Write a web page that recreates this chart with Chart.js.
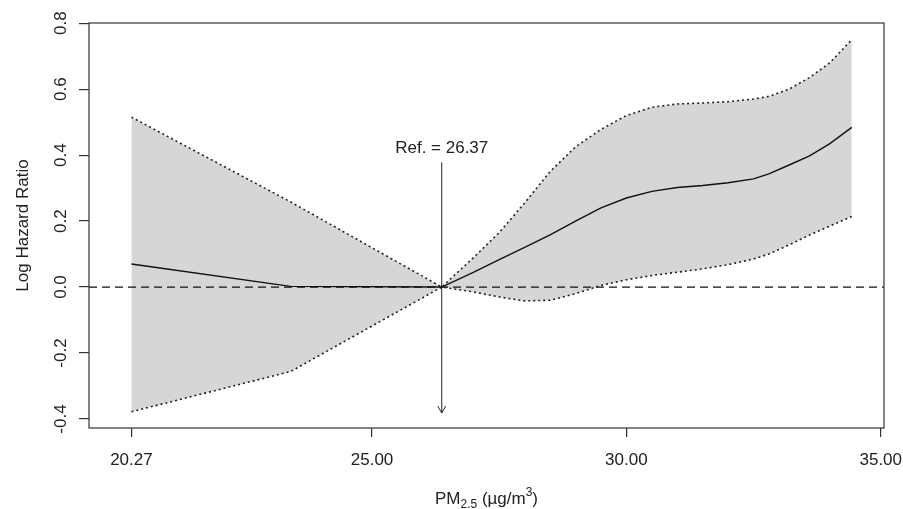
<!DOCTYPE html>
<html lang="en">
<head>
  <meta charset="UTF-8">
  <title>Log Hazard Ratio vs PM2.5</title>
  <script src="https://cdn.jsdelivr.net/npm/chart.js"></script>
  <style>
    html, body { margin: 0; padding: 0; background: #fff; }
    .chart-container { position: relative; width: 903px; height: 509px; }
  </style>
</head>
<body>
  <div class="chart-container">
    <canvas id="hrChart"></canvas>
  </div>

  <script>
    // PM2.5 values where the spline was evaluated
    const pmValues = [20.27, 23.4, 26.37, 27.0, 27.5, 28.0, 28.5, 29.0, 29.5, 30.0, 30.5, 31.0, 31.5, 32.0, 32.5, 32.8, 33.2, 33.6, 34.0, 34.43];
    const logHR   = [0.070, 0.002, 0.0, 0.045, 0.083, 0.12, 0.158, 0.20, 0.24, 0.27, 0.29, 0.302, 0.308, 0.316, 0.328, 0.343, 0.37, 0.398, 0.435, 0.484];
    const upperCI = [0.515, 0.258, 0.0, 0.09, 0.165, 0.255, 0.35, 0.425, 0.478, 0.52, 0.545, 0.555, 0.558, 0.562, 0.57, 0.578, 0.60, 0.635, 0.68, 0.75];
    const lowerCI = [-0.378, -0.256, 0.0, -0.015, -0.03, -0.042, -0.04, -0.02, 0.005, 0.022, 0.035, 0.045, 0.055, 0.068, 0.085, 0.10, 0.128, 0.158, 0.185, 0.214];

    const xTicks = [20.27, 25, 30, 35];
    const yTicks = [-0.4, -0.2, 0.0, 0.2, 0.4, 0.6, 0.8];

    const refValue = 26.37;
    const refArrow = [0.378, -0.382]; // top, bottom of the arrow
    const refLabel = 'Ref. = 26.37';

    const FONT = '"Liberation Sans", Arial, sans-serif';
    const TEXT = '#222';

    function toPoints(ys) {
      return pmValues.map((x, i) => ({ x: x, y: ys[i] }));
    }

    const rPlotLook = {
      id: 'rPlotLook',
      afterDatasetsDraw(chart) {
        const ctx = chart.ctx;
        const area = chart.chartArea;
        const xs = chart.scales.x;
        const ys = chart.scales.y;

        ctx.save();
        // dashed zero line
        ctx.strokeStyle = '#111';
        ctx.lineWidth = 1.2;
        ctx.setLineDash([8, 5]);
        const y0 = ys.getPixelForValue(0);
        ctx.beginPath();
        ctx.moveTo(area.left, y0);
        ctx.lineTo(area.right, y0);
        ctx.stroke();
        ctx.setLineDash([]);

        // reference arrow
        const rx = xs.getPixelForValue(refValue);
        const top = ys.getPixelForValue(refArrow[0]);
        const bot = ys.getPixelForValue(refArrow[1]);
        ctx.strokeStyle = '#222';
        ctx.lineWidth = 1;
        ctx.beginPath();
        ctx.moveTo(rx, top);
        ctx.lineTo(rx, bot);
        ctx.moveTo(rx - 4, bot - 7);
        ctx.lineTo(rx, bot);
        ctx.lineTo(rx + 4, bot - 7);
        ctx.stroke();

        ctx.fillStyle = TEXT;
        ctx.font = '17px ' + FONT;
        ctx.textAlign = 'center';
        ctx.textBaseline = 'alphabetic';
        ctx.fillText(refLabel, rx, top - 9);
        ctx.restore();
      },
      afterDraw(chart) {
        const ctx = chart.ctx;
        const area = chart.chartArea;
        const xs = chart.scales.x;
        const ys = chart.scales.y;

        ctx.save();
        // box
        ctx.strokeStyle = '#333';
        ctx.lineWidth = 1.2;
        ctx.strokeRect(area.left, area.top, area.right - area.left, area.bottom - area.top);

        ctx.fillStyle = TEXT;
        ctx.font = '17px ' + FONT;
        ctx.textBaseline = 'alphabetic';
        ctx.textAlign = 'center';

        // x tick labels
        xTicks.forEach(v => {
          ctx.fillText(v.toFixed(2), xs.getPixelForValue(v), area.bottom + 37);
        });

        // y tick labels, rotated like R's default
        yTicks.forEach(v => {
          ctx.save();
          ctx.translate(area.left - 23, ys.getPixelForValue(v));
          ctx.rotate(-Math.PI / 2);
          ctx.fillText(v.toFixed(1), 0, 0);
          ctx.restore();
        });

        // y title
        ctx.save();
        ctx.translate(area.left - 61, (area.top + area.bottom) / 2);
        ctx.rotate(-Math.PI / 2);
        ctx.fillText('Log Hazard Ratio', 0, 0);
        ctx.restore();

        // x title with sub/superscript
        const parts = [
          { t: 'PM', size: 17, dy: 0 },
          { t: '2.5', size: 12, dy: 4 },
          { t: ' (\u00b5g/m', size: 17, dy: 0 },
          { t: '3', size: 12, dy: -8 },
          { t: ')', size: 17, dy: 0 }
        ];
        let total = 0;
        parts.forEach(p => {
          ctx.font = p.size + 'px ' + FONT;
          p.w = ctx.measureText(p.t).width;
          total += p.w;
        });
        let cx = (area.left + area.right) / 2 - total / 2;
        const base = area.bottom + 76;
        ctx.textAlign = 'left';
        parts.forEach(p => {
          ctx.font = p.size + 'px ' + FONT;
          ctx.fillText(p.t, cx, base + p.dy);
          cx += p.w;
        });
        ctx.restore();
      }
    };

    const ctx = document.getElementById('hrChart').getContext('2d');
    new Chart(ctx, {
      type: 'line',
      data: {
        datasets: [
          {
            label: 'Log HR',
            data: toPoints(logHR),
            borderColor: '#111',
            borderWidth: 1.4,
            pointRadius: 0,
            fill: false,
            tension: 0
          },
          {
            label: 'Upper',
            data: toPoints(upperCI),
            borderColor: '#222',
            borderWidth: 1.6,
            borderDash: [2, 3],
            pointRadius: 0,
            backgroundColor: '#d6d6d6',
            fill: '+1',
            tension: 0
          },
          {
            label: 'Lower',
            data: toPoints(lowerCI),
            borderColor: '#2a1a1a',
            borderWidth: 1.6,
            borderDash: [2, 3],
            pointRadius: 0,
            fill: false,
            tension: 0
          }
        ]
      },
      options: {
        responsive: true,
        maintainAspectRatio: false,
        animation: false,
        layout: { padding: { top: 23, right: 19, left: 0, bottom: 0 } },
        plugins: {
          legend: { display: false },
          tooltip: { enabled: false },
          filler: { drawTime: 'beforeDatasetsDraw' }
        },
        scales: {
          x: {
            type: 'linear',
            min: 19.436,
            max: 35.064,
            afterBuildTicks: scale => { scale.ticks = xTicks.map(v => ({ value: v })); },
            afterFit: scale => { scale.height = 81; },
            ticks: { display: false },
            grid: { drawOnChartArea: false, drawTicks: true, tickLength: 9, color: '#333', lineWidth: 1.2 },
            border: { display: false }
          },
          y: {
            type: 'linear',
            min: -0.4273,
            max: 0.8005,
            afterBuildTicks: scale => { scale.ticks = yTicks.map(v => ({ value: v })); },
            afterFit: scale => { scale.width = 89; },
            ticks: { display: false },
            grid: { drawOnChartArea: false, drawTicks: true, tickLength: 10, color: '#333', lineWidth: 1.2 },
            border: { display: false }
          }
        }
      },
      plugins: [rPlotLook]
    });
  </script>
</body>
</html>
